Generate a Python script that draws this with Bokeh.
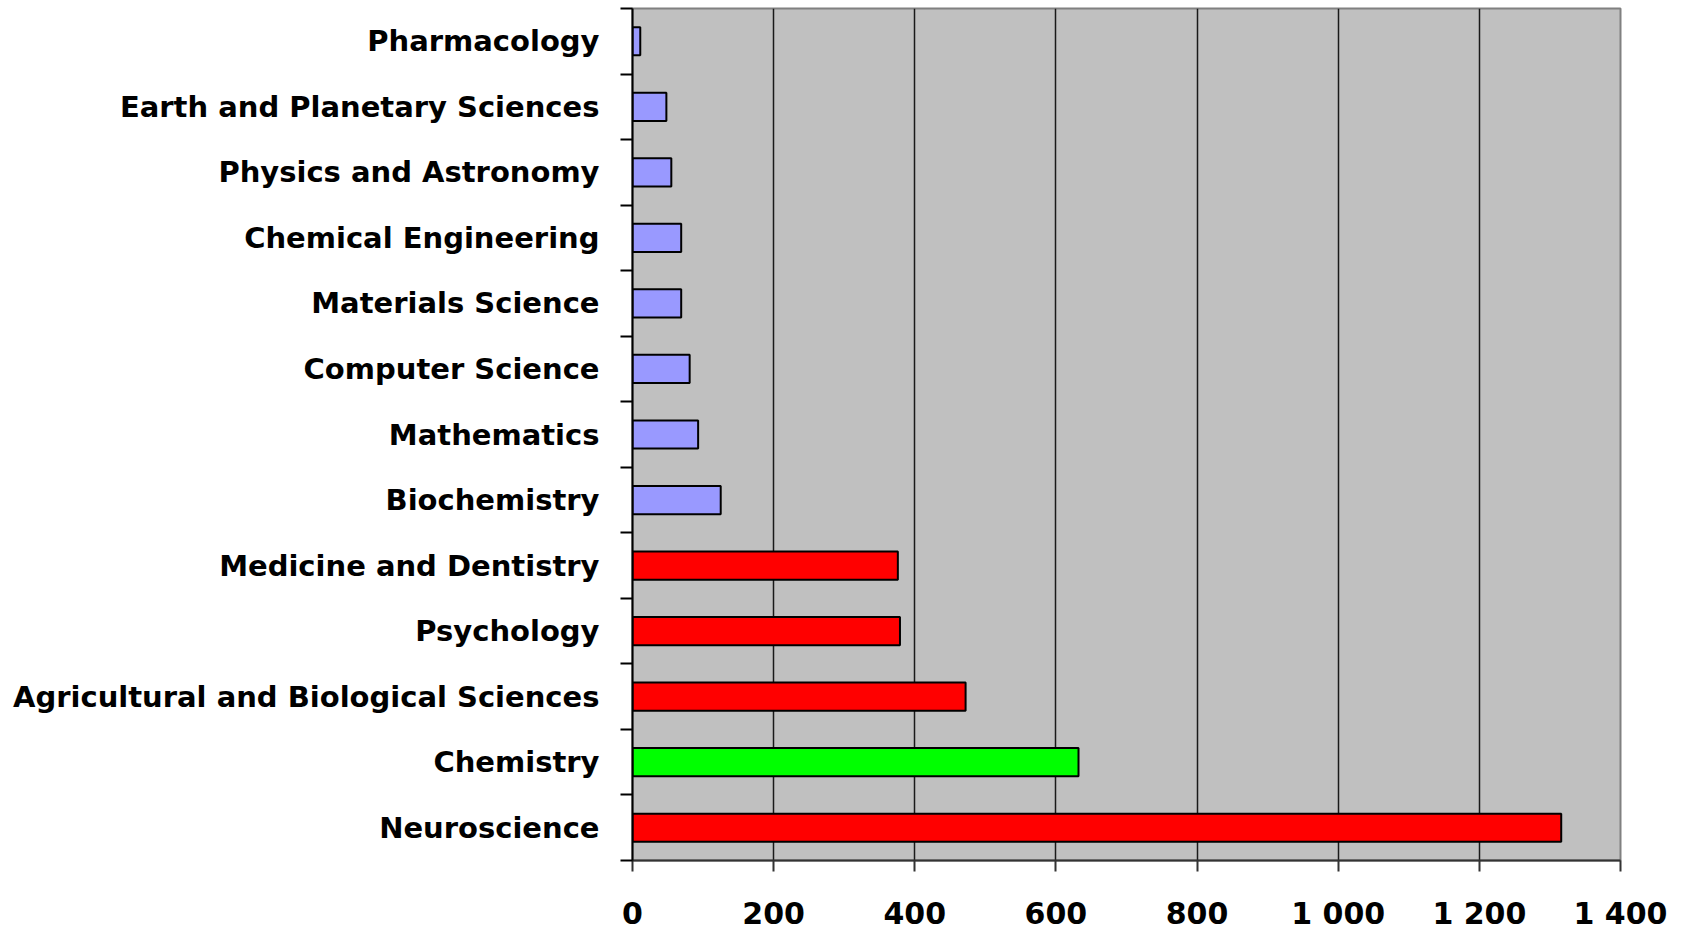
from bokeh.plotting import figure
from bokeh.models import Range1d, FixedTicker, ColumnDataSource
from bokeh.embed import file_html
from bokeh.resources import INLINE

# Data (bottom to top)
categories = [
    "Neuroscience",
    "Chemistry",
    "Agricultural and Biological Sciences",
    "Psychology",
    "Medicine and Dentistry",
    "Biochemistry",
    "Mathematics",
    "Computer Science",
    "Materials Science",
    "Chemical Engineering",
    "Physics and Astronomy",
    "Earth and Planetary Sciences",
    "Pharmacology",
]
values = [1316, 632, 472, 379, 376, 125, 93, 81, 69, 69, 55, 48, 11]
groups = ["red", "green", "red", "red", "red",
          "blue", "blue", "blue", "blue", "blue", "blue", "blue", "blue"]
x_ticks = [0, 200, 400, 600, 800, 1000, 1200, 1400]

palette = {"red": "#FF0000", "green": "#00FF00", "blue": "#9999FF"}

positions = list(range(len(categories)))
source = ColumnDataSource(dict(
    y=positions,
    value=values,
    name=categories,
    color=[palette[g] for g in groups],
))

p = figure(
    width=1677, height=933,
    output_backend="svg", toolbar_location=None,
    x_range=Range1d(0, 1400), y_range=Range1d(-0.5, len(categories) - 0.5),
    min_border_left=632, min_border_right=57,
    min_border_top=8, min_border_bottom=70,
)
p.background_fill_color = "#C0C0C0"
p.border_fill_color = "white"
p.outline_line_color = "#808080"
p.outline_line_width = 2

p.hbar(y="y", right="value", left=0, height=0.43, source=source,
       fill_color="color", line_color="black", line_width=2)

# X axis
p.xaxis.ticker = FixedTicker(ticks=x_ticks)
p.xaxis.major_label_overrides = {v: f"{v:,}".replace(",", " ") for v in x_ticks}
p.xaxis.major_label_text_font = "DejaVu Sans"
p.xaxis.major_label_text_font_style = "bold"
p.xaxis.major_label_text_font_size = "30px"
p.xaxis.major_label_text_color = "black"
p.xaxis.major_tick_out = 11
p.xaxis.major_tick_in = 0
p.xaxis.minor_tick_out = 0
p.xaxis.minor_tick_in = 0
p.xaxis.major_tick_line_color = "#333333"
p.xaxis.major_tick_line_width = 2
p.xaxis.axis_line_color = "#333333"
p.xaxis.axis_line_width = 2
p.xaxis.major_label_standoff = 24

# Y axis: labels at centers, tick marks at category boundaries
p.yaxis.ticker = FixedTicker(ticks=positions,
                             minor_ticks=[i - 0.5 for i in range(len(categories) + 1)])
p.yaxis.major_label_overrides = {i: c for i, c in zip(positions, categories)}
p.yaxis.major_label_text_font = "DejaVu Sans"
p.yaxis.major_label_text_font_style = "bold"
p.yaxis.major_label_text_font_size = "29px"
p.yaxis.major_label_text_color = "black"
p.yaxis.major_tick_out = 0
p.yaxis.major_tick_in = 0
p.yaxis.minor_tick_out = 12
p.yaxis.minor_tick_in = 0
p.yaxis.minor_tick_line_color = "black"
p.yaxis.minor_tick_line_width = 2
p.yaxis.axis_line_color = "black"
p.yaxis.axis_line_width = 2
p.yaxis.major_label_standoff = 21

# Grid
p.xgrid.ticker = FixedTicker(ticks=x_ticks[1:-1])
p.xgrid.grid_line_color = "#1a1a1a"
p.xgrid.grid_line_width = 1.5
p.ygrid.grid_line_color = None

open("out.html", "w").write(file_html(p, INLINE))
